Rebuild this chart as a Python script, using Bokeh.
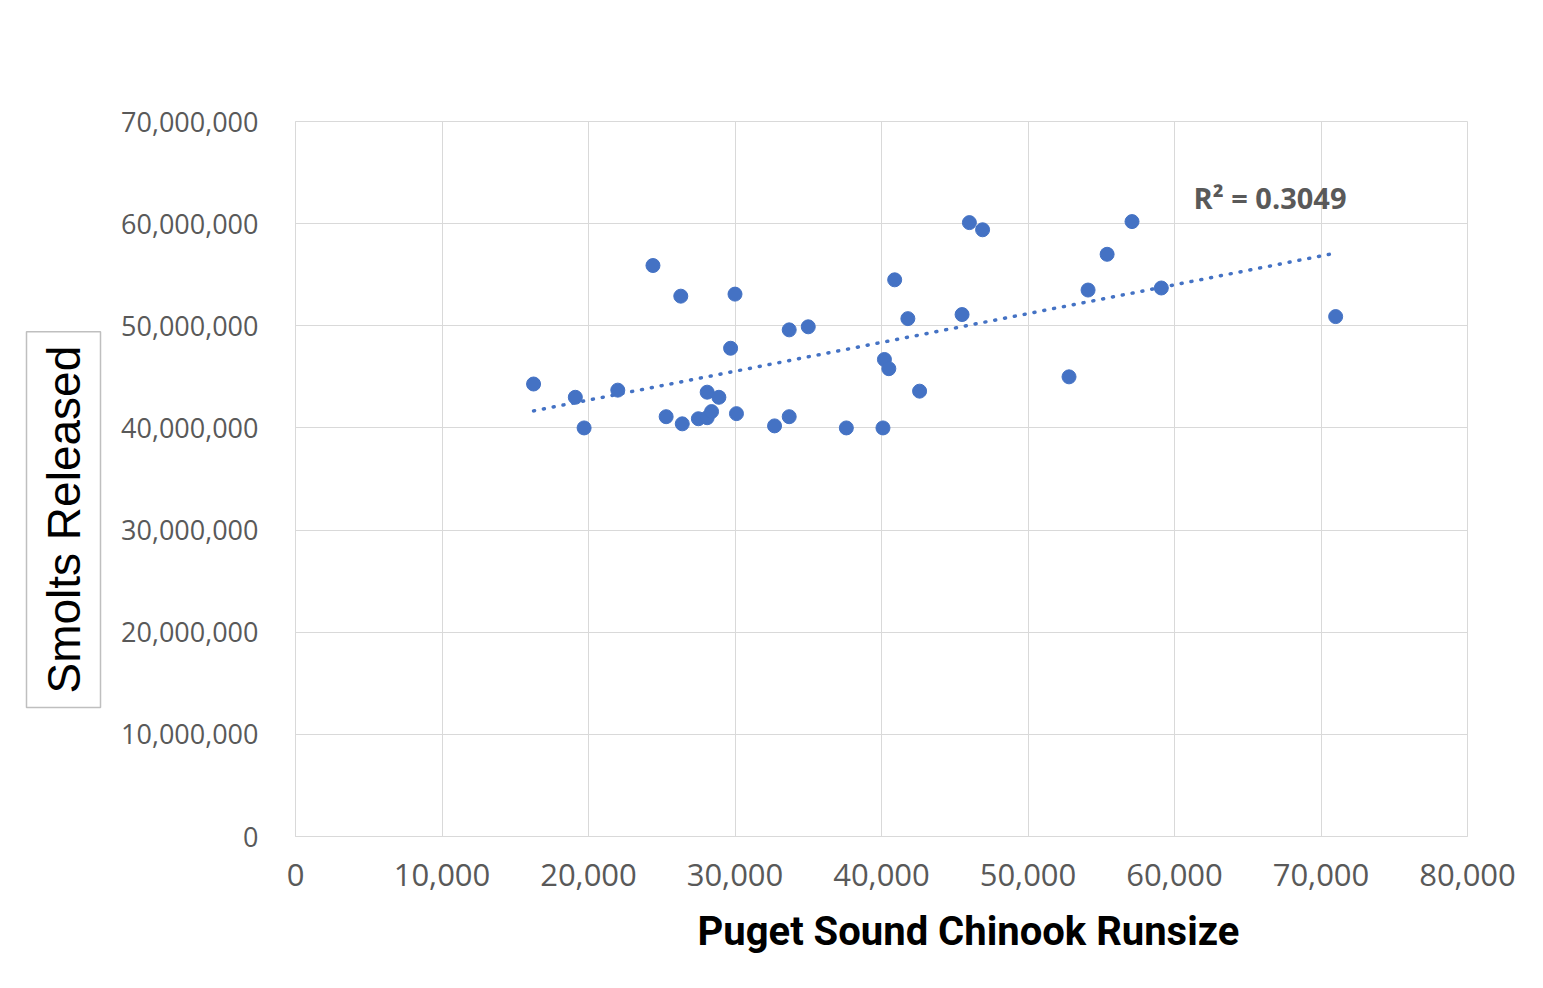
import numpy as np
from bokeh.plotting import figure
from bokeh.models import Label, Title, FixedTicker, NumeralTickFormatter, Range1d
from bokeh.embed import file_html
from bokeh.resources import INLINE

# ---- data ----
runsize = [16250, 19100, 19700, 22000, 24400, 25300, 26300, 26400, 27500, 28100,
           28100, 28400, 28900, 29700, 30000, 30100, 32700, 33700, 33700, 35000,
           37600, 40100, 40200, 40500, 40900, 41800, 42600, 45500, 46000, 46900,
           52800, 54100, 55400, 57100, 59100, 71000]
smolts = [44.3e6, 43.0e6, 40.0e6, 43.7e6, 55.9e6, 41.1e6, 52.9e6, 40.4e6, 40.9e6, 41.0e6,
          43.5e6, 41.6e6, 43.0e6, 47.8e6, 53.1e6, 41.4e6, 40.2e6, 41.1e6, 49.6e6, 49.9e6,
          40.0e6, 40.0e6, 46.7e6, 45.8e6, 54.5e6, 50.7e6, 43.6e6, 51.1e6, 60.1e6, 59.4e6,
          45.0e6, 53.5e6, 57.0e6, 60.2e6, 53.7e6, 50.9e6]
x_ticks = [0, 10000, 20000, 30000, 40000, 50000, 60000, 70000, 80000]
y_ticks = [0, 10e6, 20e6, 30e6, 40e6, 50e6, 60e6, 70e6]
x_title = "Puget Sound Chinook Runsize"
y_title = "Smolts Released"
r2_text = "R\u00b2 = 0.3049"

W, H = 1527, 972
p = figure(width=W, height=H, output_backend="svg", toolbar_location=None,
           x_range=Range1d(0, 80000), y_range=Range1d(0, 70e6),
           min_border_left=295, min_border_right=60, min_border_top=121, min_border_bottom=135)
p.background_fill_color = "white"
p.border_fill_color = "white"
p.outline_line_color = "#d9d9d9"
p.outline_line_width = 1

for ax, ticks in ((p.xaxis, x_ticks), (p.yaxis, y_ticks)):
    ax.ticker = FixedTicker(ticks=ticks)
    ax.formatter = NumeralTickFormatter(format="0,0")
    ax.axis_line_color = "#d9d9d9"
    ax.major_tick_line_color = None
    ax.minor_tick_line_color = None
    ax.major_label_text_font = "Open Sans"
    ax.major_label_text_color = "#595959"
p.yaxis.major_label_text_font_size = "27px"
p.xaxis.major_label_text_font_size = "31px"
p.yaxis.major_label_standoff = 31
p.xaxis.major_label_standoff = 21

p.grid.grid_line_color = "#d9d9d9"
p.grid.grid_line_width = 1
p.xgrid.ticker = FixedTicker(ticks=x_ticks)
p.ygrid.ticker = FixedTicker(ticks=y_ticks)

# trendline (linear least squares)
slope, inter = np.polyfit(runsize, smolts, 1)
tx = [min(runsize), max(runsize)]
ty = [inter + slope * v for v in tx]
p.line(tx, ty, line_color="#4472C4", line_width=3.5, line_dash="1 9", line_cap="round")

p.scatter(runsize, smolts, size=14, fill_color="#4472C4", line_color="#4472C4")

p.add_layout(Label(x=61300, y=62.6e6, text=r2_text, text_font="Open Sans",
                   text_font_style="bold", text_font_size="29px", text_color="#595959",
                   text_align="left", text_baseline="middle"))

p.add_layout(Title(text=x_title, align="left", offset=402, standoff=35,
                   text_font="Roboto", text_font_style="bold", text_font_size="40px",
                   text_color="black"), "below")

p.add_layout(Title(text=y_title, align="left", offset=129, standoff=36,
                   text_font="Liberation Sans", text_font_style="normal", text_font_size="46px",
                   text_color="black",
                   border_line_color="#bfbfbf", border_line_width=1.5,
                   background_fill_color="white", padding=(14, 11)), "left")

open("out.html", "w").write(file_html(p, INLINE))
